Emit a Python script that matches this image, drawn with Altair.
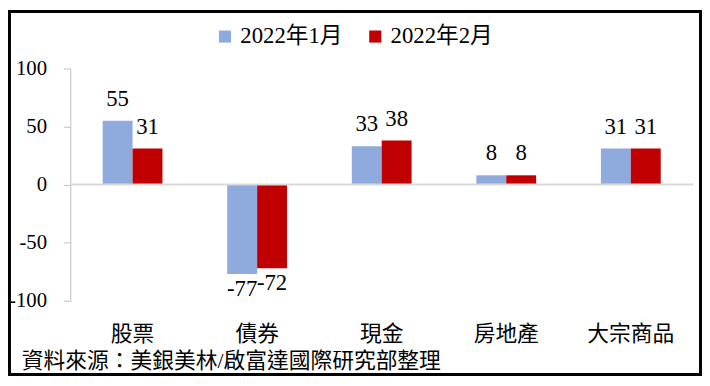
import altair as alt
import pandas as pd

categories = ["股票", "債券", "現金", "房地產", "大宗商品"]
series_names = ["2022年1月", "2022年2月"]
jan_values = [55, -77, 33, 8, 31]
feb_values = [31, -72, 38, 8, 31]
y_ticks = [-100, -50, 0, 50, 100]
source_text = "資料來源：美銀美林/啟富達國際研究部整理"
colors = ["#8FAADC", "#C00000"]

rows = []
for i, c in enumerate(categories):
    rows.append({"cat": c, "series": series_names[0], "value": jan_values[i], "label": str(jan_values[i])})
    rows.append({"cat": c, "series": series_names[1], "value": feb_values[i], "label": str(feb_values[i])})
df = pd.DataFrame(rows)

FONT = "'Liberation Serif', 'Noto Sans CJK TC'"
W, H = 630, 235

x_scale = alt.Scale(paddingInner=0.52, paddingOuter=0.26)
y_scale = alt.Scale(domain=[-100, 100], nice=False, zero=True)

x_enc = alt.X("cat:N", sort=categories, scale=x_scale,
              axis=alt.Axis(title=None, labelAngle=0, domain=False, ticks=False,
                            labelPadding=23, labelFontSize=22, labelFont=FONT,
                            labelColor="black"))
x_plain = alt.X("cat:N", sort=categories, scale=x_scale)
color_enc = alt.Color("series:N", sort=series_names,
                      scale=alt.Scale(domain=series_names, range=colors),
                      legend=alt.Legend(title=None, orient="none", direction="horizontal",
                                        legendX=145, legendY=-44, symbolType="square",
                                        symbolSize=150, symbolStrokeWidth=0,
                                        labelFont=FONT, labelFontSize=23, labelColor="black",
                                        labelOffset=4, columnPadding=21))
xoff = alt.XOffset("series:N", sort=series_names)

base = alt.Chart(df)

bars = base.mark_bar().encode(
    x=x_enc,
    xOffset=xoff,
    y=alt.Y("value:Q", scale=y_scale,
            axis=alt.Axis(title=None, values=y_ticks, grid=False, domainColor="#BFBFBF",
                          tickColor="#BFBFBF", tickSize=7, labelPadding=17,
                          labelFontSize=21, labelFont=FONT, labelColor="black",
                          labelExpr="'' + datum.value")),
    color=color_enc,
)

y_plain = alt.Y("value:Q", scale=y_scale)

pos_labels = base.transform_filter("datum.value >= 0").mark_text(
    font=FONT, fontSize=23, color="black", baseline="alphabetic", dy=-15
).encode(x=x_plain, xOffset=xoff, y=y_plain, text="label:N")

neg_labels = base.transform_filter("datum.value < 0").mark_text(
    font=FONT, fontSize=23, color="black", baseline="alphabetic", dy=22
).encode(x=x_plain, xOffset=xoff, y=y_plain, text="label:N")

zero_df = pd.DataFrame({"value": [0]})
zero_line = alt.Chart(zero_df).mark_rule(color="#D9D9D9", strokeWidth=2).encode(
    y=y_plain, x=alt.value(0), x2=alt.value(W))

src = alt.Chart(zero_df).mark_text(
    font=FONT, fontSize=22, color="black", align="left", baseline="alphabetic"
).encode(x=alt.value(-49), y=alt.value(303), text=alt.value(source_text))

border = alt.Chart(zero_df).mark_rect(fill=None, stroke="black", strokeWidth=3).encode(
    x=alt.value(-61.5), x2=alt.value(W + 7.5), y=alt.value(-57.5), y2=alt.value(H + 74.5))

chart = alt.layer(bars, zero_line, pos_labels, neg_labels, src, border).properties(
    width=W, height=H,
    background="white",
    autosize=alt.AutoSizeParams(type="none"),
    padding={"left": 63, "top": 59, "right": 9, "bottom": 76},
).configure_view(strokeWidth=0, stroke="transparent")

chart.save("out.html", embed_options={"renderer": "svg", "actions": False})
